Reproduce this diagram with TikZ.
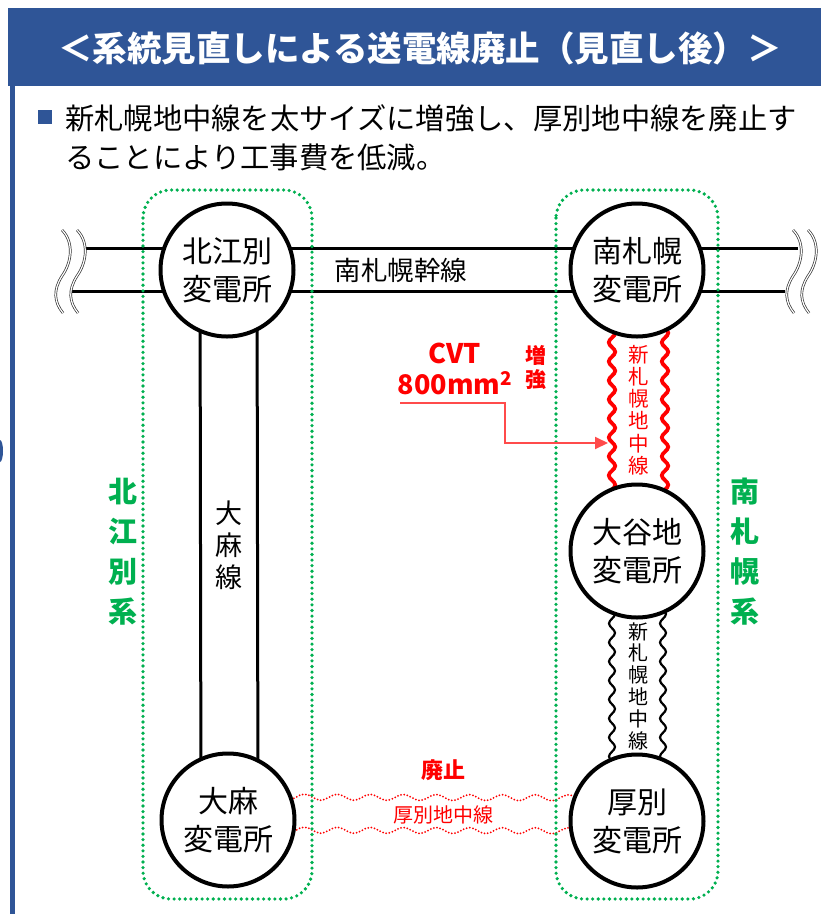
\documentclass[tikz,border=0pt]{standalone}
\usepackage{fontspec}
\setmainfont{Noto Sans CJK JP}
\usetikzlibrary{decorations.pathmorphing,backgrounds,calc,arrows.meta}
\definecolor{tblue}{HTML}{2F5597}
\definecolor{tgreen}{HTML}{00B050}
\definecolor{tred}{HTML}{FF0000}
\definecolor{tarrow}{HTML}{FF4B4B}
\newcommand{\fs}[2]{\fontsize{#1}{#2}\selectfont}
\begin{document}
\begin{tikzpicture}[x=1pt,y=-1pt,
  station/.style={circle,draw=black,line width=4pt,fill=white,minimum size=133pt,inner sep=0pt,align=center,font=\fs{30}{38}},
  groupbox/.style={draw=tgreen,line width=3.6pt,line cap=round,dash pattern=on 0pt off 5.6pt,rounded corners=28pt},
  feeder/.style={draw=black,line width=3pt},
  breakmark/.style={draw=black!80,line width=0.7pt,double=white,double distance=1.2pt},
  wavyred/.style={draw=tred,line width=3.8pt,decorate,decoration={snake,amplitude=3.2pt,segment length=19pt}},
  wavyblack/.style={draw=black,line width=2.2pt,decorate,decoration={snake,amplitude=3pt,segment length=19pt}},
  wavydot/.style={draw=tred,line width=2pt,line cap=round,dash pattern=on 0pt off 3.2pt,decorate,decoration={snake,amplitude=3pt,segment length=33pt}},
  lbl/.style={inner sep=0pt,align=center},
  grouplbl/.style={lbl,text=tgreen,font=\bfseries\fs{29}{40}},
  pointer/.style={draw=tarrow,line width=2pt,-{Triangle[length=13pt,width=12pt]}}
]
\useasboundingbox (0,0) rectangle (821,914);
% header
\fill[tblue] (8,8) rectangle (821,86);
\node[lbl,text=white,font=\bfseries\fs{34.5}{40}] (title) at (420,48) {＜系統見直しによる送電線廃止（見直し後）＞};
\draw[tblue,line width=5pt] (12.5,86) -- (12.5,914);
\fill[tblue] (0,451) ellipse (3 and 11);
\fill[tblue] (38,110) rectangle (52,124);
\node[lbl,anchor=west,font=\fs{29.3}{39}] (line1) at (65,118) {新札幌地中線を太サイズに増強し、厚別地中線を廃止す};
\node[lbl,anchor=west,font=\fs{29.3}{39}] (line2) at (65,157) {ることにより工事費を低減。};

% group boxes
\draw[groupbox] (143,190) rectangle (312,899);
\draw[groupbox] (556,190) rectangle (718,899);
\node[grouplbl] (gl) at (123,552) {北\\江\\別\\系};
\node[grouplbl] (gr) at (745,552) {南\\札\\幌\\系};

% stations
\node[station] (kita) at (227,270) {北江別\\変電所};
\node[station] (minami) at (637,270) {南札幌\\変電所};
\node[station] (oyachi) at (637,551) {大谷地\\変電所};
\node[station] (oasa) at (228,820) {大麻\\変電所};
\node[station] (atsu) at (637,821) {厚別\\変電所};

% line ends
\coordinate (wl1) at (84,248);
\coordinate (wl2) at (70,291);
\coordinate (wr1) at (798,248);
\coordinate (wr2) at (785,291);

\begin{pgfonlayer}{background}
  % 南札幌幹線
  \draw[feeder] (wl1) -- ($(kita.center)+(0,-22)$) -- ($(minami.center)+(0,-22)$) -- (wr1);
  \draw[feeder] (wl2) -- ($(kita.center)+(0,21)$) -- ($(minami.center)+(0,21)$) -- (wr2);
  % 大麻線
  \draw[feeder] ($(kita.center)+(-27,0)$) -- ($(oasa.center)+(-27,0)$);
  \draw[feeder] ($(kita.center)+(30,0)$) -- ($(oasa.center)+(30,0)$);
  % 新札幌地中線 (増強)
  \draw[wavyred] ($(minami.center)+(-25,0)$) -- ($(oyachi.center)+(-25,0)$);
  \draw[wavyred] ($(minami.center)+(28,0)$) -- ($(oyachi.center)+(28,0)$);
  % 新札幌地中線
  \draw[wavyblack] ($(oyachi.center)+(-25,0)$) -- ($(atsu.center)+(-25,0)$);
  \draw[wavyblack] ($(oyachi.center)+(26,0)$) -- ($(atsu.center)+(26,0)$);
  % 厚別地中線 (廃止)
  \draw[wavydot] ($(oasa.center)+(0,-23)$) -- ($(atsu.center)+(0,-23)$);
  \draw[wavydot] ($(oasa.center)+(0,10)$) -- ($(atsu.center)+(0,10)$);
\end{pgfonlayer}

% break marks
\foreach \x in {62,77,793,808}{
  \draw[breakmark] (\x,230) .. controls (\x+12,242) and (\x+10,262) .. (\x,276) .. controls (\x-9,290) and (\x-8,302) .. (\x+1,313);
}

% labels
\node[lbl,font=\fs{26.5}{30}] (trunk) at (401,270) {南札幌幹線};
\node[lbl,font=\fs{27}{32}] (oasaline) at (229,545) {大\\麻\\線};
\node[lbl,text=tred,font=\fs{20.5}{22.2}] (shinred) at (639,410) {新\\札\\幌\\地\\中\\線};
\node[lbl,font=\fs{20}{21.8}] (shinblk) at (638,686) {新\\札\\幌\\地\\中\\線};
\node[lbl,text=tred,font=\fs{20}{24}] (atsuline) at (443,815) {厚別地中線};
\node[lbl,text=tred,font=\bfseries\fs{22}{24}] (haishi) at (443,770) {廃止};
\node[lbl,text=tred,font=\bfseries\fs{21}{24}] (zokyo) at (536,368) {増\\強};
\node[lbl,text=tred,font=\bfseries\fs{27}{30}] (cvt) at (455,353) {CVT};
\node[lbl,text=tred,font=\bfseries\fs{27}{30}] (cvtsize) at (455,383) {800mm\textsuperscript{2}};

% pointer
\coordinate (ps) at (400,403);
\coordinate (pe) at (608,443);
\draw[pointer] (ps) -- (505,403) -- (505,443) -- (pe);
\end{tikzpicture}
\end{document}
